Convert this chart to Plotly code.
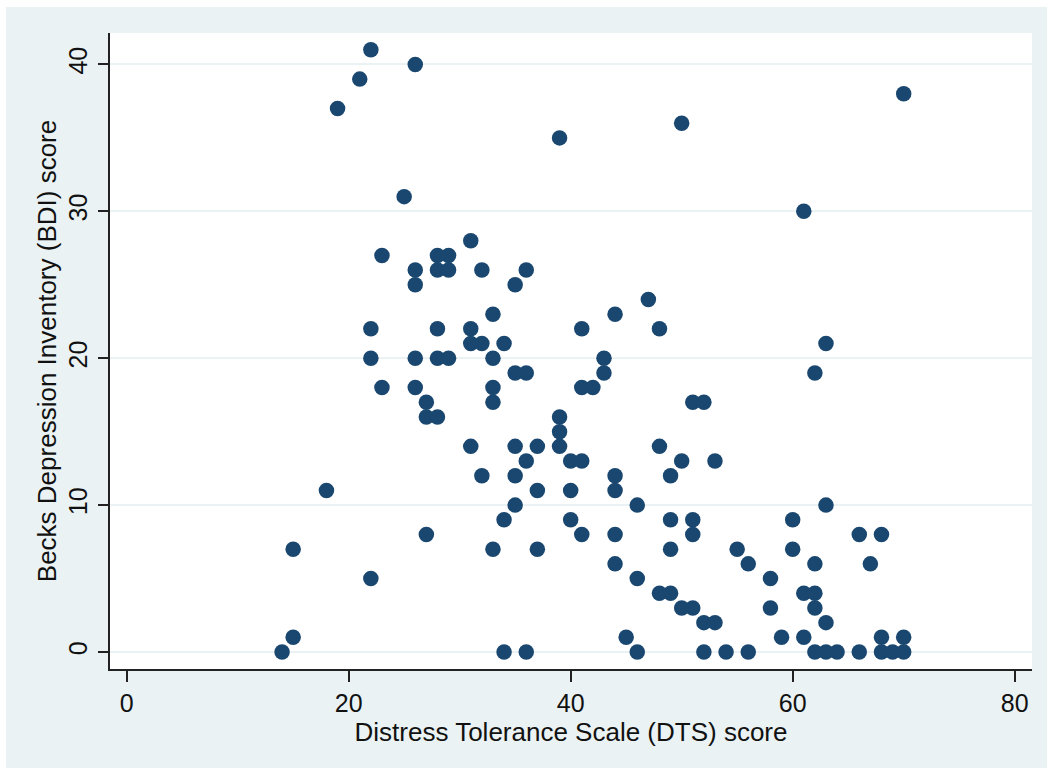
import plotly.graph_objects as go

# Distress Tolerance Scale (x) vs Beck Depression Inventory (y), one point per participant
dts = [14, 15, 15, 18, 19, 21,
       22, 22, 22, 22, 23, 23, 25,
       26, 26, 26, 26, 26, 27, 27, 27,
       28, 28, 28, 28, 28, 29, 29, 29,
       31, 31, 31, 31, 32, 32, 32,
       33, 33, 33, 33, 33, 34, 34, 34,
       35, 35, 35, 35, 35, 36, 36, 36, 36,
       37, 37, 37, 39, 39, 39, 39, 40, 40, 40,
       41, 41, 41, 41, 42, 43, 43,
       44, 44, 44, 44, 44, 45, 46, 46, 46, 47,
       48, 48, 48, 49, 49, 49, 49, 50, 50, 50,
       51, 51, 51, 51, 52, 52, 52, 53, 53, 54, 55,
       56, 56, 58, 58, 59, 60, 60, 61, 61, 61,
       62, 62, 62, 62, 62, 63, 63, 63, 63, 64,
       66, 66, 67, 68, 68, 68, 69, 70, 70, 70]
bdi = [0, 1, 7, 11, 37, 39,
       41, 22, 20, 5, 27, 18, 31,
       40, 26, 25, 20, 18, 17, 16, 8,
       27, 26, 22, 20, 16, 27, 26, 20,
       28, 22, 21, 14, 26, 21, 12,
       23, 20, 18, 17, 7, 21, 9, 0,
       25, 19, 14, 12, 10, 26, 19, 13, 0,
       14, 11, 7, 35, 16, 15, 14, 13, 11, 9,
       22, 18, 13, 8, 18, 20, 19,
       23, 12, 11, 8, 6, 1, 10, 5, 0, 24,
       22, 14, 4, 12, 9, 7, 4, 36, 13, 3,
       17, 9, 8, 3, 17, 2, 0, 13, 2, 0, 7,
       6, 0, 5, 3, 1, 9, 7, 30, 4, 1,
       19, 6, 4, 3, 0, 21, 10, 2, 0, 0,
       8, 0, 6, 8, 1, 0, 0, 38, 1, 0]

x_ticks = [0, 20, 40, 60, 80]
y_ticks = [0, 10, 20, 30, 40]

NAVY = "#1a476f"
GRAPH_BG = "#eaf2f3"
FONT = "Liberation Sans, Arial, sans-serif"

fig = go.Figure(
    go.Scatter(
        x=dts, y=bdi, mode="markers",
        marker=dict(size=15.5, color=NAVY, line=dict(width=0)),
        hoverinfo="x+y",
    )
)

# page geometry (px)
W, H = 1047, 768
ML, MR, MT, MB = 110, 15, 33, 99
pw, ph = W - ML - MR, H - MT - MB


def px_x(p):
    return (p - ML) / pw


def px_y(p):
    return (H - MB - p) / ph


fig.update_layout(
    width=W, height=H,
    margin=dict(l=ML, r=MR, t=MT, b=MB, autoexpand=False),
    paper_bgcolor="white",
    plot_bgcolor="white",
    showlegend=False,
    font=dict(family=FONT, size=25, color="#111111"),
    shapes=[
        dict(type="rect", xref="paper", yref="paper", layer="below",
             x0=px_x(6), x1=px_x(W + 5), y0=px_y(H + 5), y1=px_y(7),
             fillcolor=GRAPH_BG, line=dict(width=0)),
        dict(type="rect", xref="paper", yref="paper", layer="below",
             x0=0, x1=1, y0=0, y1=1,
             fillcolor="white", line=dict(width=0)),
    ],
)

fig.update_xaxes(
    range=[-1.5, 81.56],
    tickmode="array", tickvals=x_ticks, ticktext=[str(v) for v in x_ticks],
    ticks="outside", ticklen=11, tickwidth=1.5, tickcolor="#222222",
    showline=True, linecolor="#222222", linewidth=1.5,
    showgrid=False, zeroline=False,
    tickfont=dict(size=25),
    ticklabelstandoff=0,
    title=dict(text="Distress Tolerance Scale (DTS) score",
               font=dict(size=26), standoff=0),
)
fig.update_yaxes(
    range=[-1.157, 42.14],
    tickmode="array", tickvals=y_ticks, ticktext=[str(v) for v in y_ticks],
    ticks="outside", ticklen=10, tickwidth=1.5, tickcolor="#222222",
    showline=True, linecolor="#222222", linewidth=1.5,
    showgrid=True, gridcolor=GRAPH_BG, gridwidth=2,
    zeroline=False,
    tickangle=-90,
    tickfont=dict(size=25),
    ticklabelstandoff=1,
    title=dict(text="Becks Depression Inventory (BDI) score",
               font=dict(size=26), standoff=0),
)

fig.write_html("out.html")
